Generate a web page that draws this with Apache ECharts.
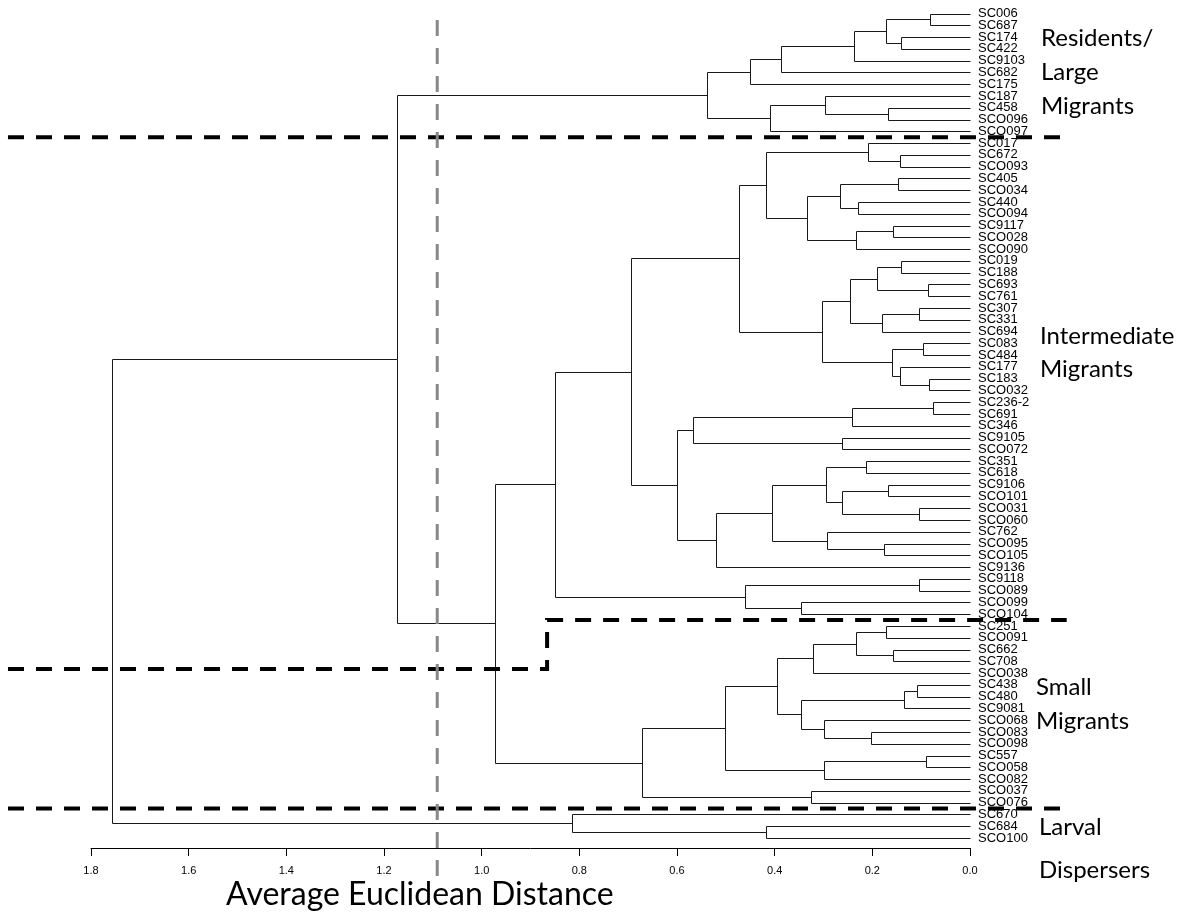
<!DOCTYPE html>
<html>
<head>
<meta charset="utf-8">
<script src="https://cdn.jsdelivr.net/npm/echarts@6/dist/echarts.min.js"></script>
<style>
  html, body { margin: 0; padding: 0; background: #fff; }
  #chart { width: 1188px; height: 916px; }
</style>
</head>
<body>
<div id="chart"></div>
<script>
// Leaf order, top to bottom
const leaves = [
  "SC006","SC687","SC174","SC422","SC9103","SC682","SC175","SC187","SC458","SCO096","SCO097",
  "SC017","SC672","SCO093","SC405","SCO034","SC440","SCO094","SC9117","SCO028","SCO090",
  "SC019","SC188","SC693","SC761","SC307","SC331","SC694","SC083","SC484","SC177","SC183","SCO032",
  "SC236-2","SC691","SC346","SC9105","SCO072",
  "SC351","SC618","SC9106","SCO101","SCO031","SCO060","SC762","SCO095","SCO105","SC9136",
  "SC9118","SCO089","SCO099","SCO104",
  "SC251","SCO091","SC662","SC708","SCO038","SC438","SC480","SC9081","SCO068","SCO083","SCO098",
  "SC557","SCO058","SCO082","SCO037","SCO076",
  "SC670","SC684","SCO100"
];

// Agglomeration steps: [member A, member B, height].
// A string is a leaf; a number refers to an earlier step.
const merges = [
  ["SC006","SC687",0.082], ["SC174","SC422",0.141], [0,1,0.172], [2,"SC9103",0.237],
  [3,"SC682",0.387], [4,"SC175",0.450], ["SC458","SCO096",0.167], ["SC187",6,0.297],
  [7,"SCO097",0.409], [5,8,0.538],
  ["SC672","SCO093",0.143], ["SC017",10,0.208], ["SC405","SCO034",0.148], ["SC440","SCO094",0.229],
  [12,13,0.267], ["SC9117","SCO028",0.157], [15,"SCO090",0.233], [14,16,0.333], [11,17,0.417],
  ["SC019","SC188",0.141], ["SC693","SC761",0.087], [19,20,0.191], ["SC307","SC331",0.104],
  [22,"SC694",0.181], [21,23,0.245], ["SC083","SC484",0.097], ["SC183","SCO032",0.083],
  ["SC177",26,0.143], [25,27,0.160], [24,28,0.304], [18,29,0.474],
  ["SC236-2","SC691",0.075], [31,"SC346",0.242], ["SC9105","SCO072",0.262], [32,33,0.568],
  ["SC351","SC618",0.212], ["SC9106","SCO101",0.167], ["SCO031","SCO060",0.104], [36,37,0.262],
  [35,38,0.294], ["SCO095","SCO105",0.177], ["SC762",40,0.292], [39,41,0.406], [42,"SC9136",0.521],
  [34,43,0.601], [30,44,0.695],
  ["SC9118","SCO089",0.104], ["SCO099","SCO104",0.346], [46,47,0.461], [45,48,0.849],
  ["SC251","SCO091",0.172], ["SC662","SC708",0.158], [50,51,0.233], [52,"SCO038",0.321],
  ["SC438","SC480",0.109], [54,"SC9081",0.135], ["SCO083","SCO098",0.203], ["SCO068",56,0.300],
  [55,57,0.346], [53,58,0.396], ["SC557","SCO058",0.0895], [60,"SCO082",0.300], [59,61,0.502],
  ["SCO037","SCO076",0.325], [62,63,0.672], [49,64,0.972], [9,65,1.173],
  ["SC684","SCO100",0.418], ["SC670",67,0.814], [66,68,1.757]
];

// Axis ticks
const xTicks = [1.8, 1.6, 1.4, 1.2, 1.0, 0.8, 0.6, 0.4, 0.2, 0.0];

// Cluster names
const groupNames = [
  ["Residents/", "Large", "Migrants"],
  ["Intermediate", "Migrants"],
  ["Small", "Migrants"],
  ["Larval", "Dispersers"]
];

// ---- build the elbow segments: [hA, yA, h, yB, hB] ----
const leafPos = {};
leaves.forEach((n, i) => { leafPos[n] = i; });
const nodeY = [], nodeH = [];
function member(m) {
  if (typeof m === 'string') return { y: leafPos[m], h: 0 };
  return { y: nodeY[m], h: nodeH[m] };
}
const segments = merges.map((m, i) => {
  const a = member(m[0]), b = member(m[1]);
  nodeY[i] = (a.y + b.y) / 2;
  nodeH[i] = m[2];
  return [a.h, a.y, m[2], b.y, b.h];
});

const chart = echarts.init(document.getElementById('chart'), null, { renderer: 'canvas' });

function crisp(v) { return Math.round(v) + 0.5; }

// Separator and cut lines, in (distance, leaf position) units
const guides = [
  { pts: [[1.97, 10.5], [-0.185, 10.5]], color: '#000', width: 4 },
  { pts: [[1.97, 55.65], [0.866, 55.65], [0.866, 51.5], [-0.198, 51.5]], color: '#000', width: 4 },
  { pts: [[1.97, 67.5], [-0.188, 67.5]], color: '#000', width: 4 },
  { pts: [[1.091, 0.55], [1.091, 73.3]], color: '#888', width: 3 }
];

const textFont = 'Lato, "Open Sans", sans-serif';
const graphics = [];
const groupLayout = [
  { left: 1041, top: 26, gap: 34 },
  { left: 1040, top: 324, gap: 33 },
  { left: 1036, top: 675, gap: 34 },
  { left: 1039, top: 815, gap: 43 }
];
groupNames.forEach((lines, gi) => {
  const L = groupLayout[gi];
  lines.forEach((t, li) => {
    graphics.push({
      type: 'text', left: L.left, top: L.top + li * L.gap,
      style: { text: t, font: '24px ' + textFont, fill: '#000' }
    });
  });
});
graphics.push({
  type: 'text', left: 226, top: 879,
  style: { text: 'Average Euclidean Distance', font: '32px ' + textFont, fill: '#000' }
});

chart.setOption({
  animation: false,
  backgroundColor: '#fff',
  grid: { left: 91, right: 218, top: 13.5, bottom: 78 },
  xAxis: {
    type: 'value', min: 0, max: 1.8, interval: 0.2, inverse: true,
    position: 'bottom', offset: 10,
    axisLine: { show: true, onZero: false, lineStyle: { color: '#000', width: 1 } },
    axisTick: { show: true, length: 8, lineStyle: { color: '#000' } },
    axisLabel: {
      color: '#000', fontSize: 11, fontFamily: '"Liberation Sans", Arial, sans-serif', margin: 17,
      formatter: v => {
        const t = xTicks.find(k => Math.abs(k - v) < 1e-6);
        return t === undefined ? '' : t.toFixed(1);
      }
    },
    splitLine: { show: false }
  },
  yAxis: [
    { type: 'value', min: 0, max: 70, inverse: true, show: false },
    {
      type: 'category', data: leaves, inverse: true, boundaryGap: false, position: 'right',
      axisLine: { show: false }, axisTick: { show: false }, splitLine: { show: false },
      axisLabel: {
        interval: 0, margin: 8, color: '#000', fontSize: 13,
        fontFamily: '"Liberation Sans", Arial, sans-serif', lineHeight: 12
      }
    }
  ],
  graphic: graphics,
  series: [
    {
      type: 'custom', name: 'tree', xAxisIndex: 0, yAxisIndex: 0, clip: false,
      data: segments,
      encode: { x: [0, 2, 4], y: [1, 3] },
      renderItem: (params, api) => {
        const p1 = api.coord([api.value(0), api.value(1)]);
        const p2 = api.coord([api.value(2), api.value(1)]);
        const p3 = api.coord([api.value(2), api.value(3)]);
        const p4 = api.coord([api.value(4), api.value(3)]);
        const pts = [p1, p2, p3, p4].map(p => [crisp(p[0]), crisp(p[1])]);
        return {
          type: 'polyline', shape: { points: pts },
          style: { stroke: '#1a1a1a', lineWidth: 1, fill: null }
        };
      }
    },
    {
      type: 'custom', name: 'guides', xAxisIndex: 0, yAxisIndex: 0, clip: false,
      data: guides.map((g, i) => [i]),
      renderItem: (params, api) => {
        const g = guides[params.dataIndex];
        const pts = g.pts.map(p => api.coord(p));
        return {
          type: 'polyline', shape: { points: pts },
          style: { stroke: g.color, lineWidth: g.width, lineDash: [16, 12], fill: null }
        };
      },
      z: 5
    }
  ]
});
</script>
</body>
</html>
